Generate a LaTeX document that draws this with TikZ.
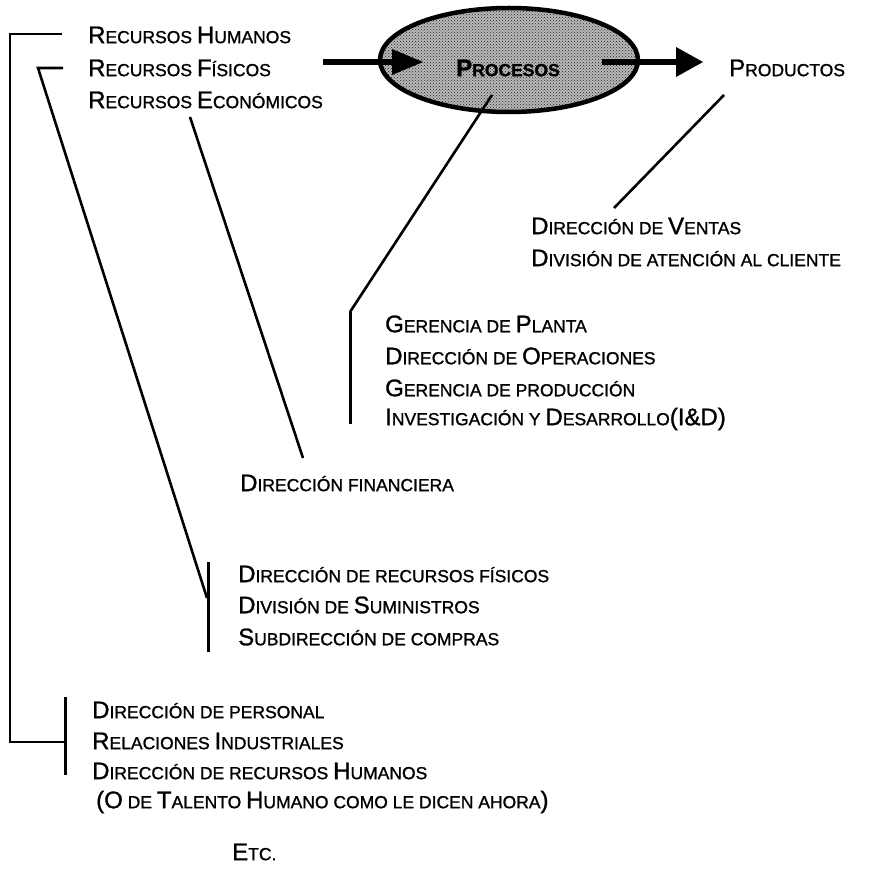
\documentclass[tikz,border=0pt]{standalone}
\usepackage{fontspec}
\setmainfont{Liberation Sans}[FakeBold=1.2]
\usetikzlibrary{patterns,arrows.meta,shapes.geometric}
% fake small caps: capitals at full size, the rest as smaller capitals
\newcommand\Cp[1]{{\fontsize{24}{26}\selectfont #1}}
\tikzset{
  lbl/.style={anchor=west, inner sep=0pt, font=\fontsize{17.5}{20}\selectfont},
  ln/.style={line width=2.6pt},
  bar/.style={line width=3pt},
  fat/.style={line width=6pt},
}
\begin{document}
\begin{tikzpicture}[x=1pt,y=-1pt]
\useasboundingbox (0,0) rectangle (869,877);

% resources
\node[lbl] (rh) at (88,35) {\Cp{R}ECURSOS \Cp{H}UMANOS};
\node[lbl] (rf) at (88,68) {\Cp{R}ECURSOS \Cp{F}ÍSICOS};
\node[lbl] (re) at (88,100) {\Cp{R}ECURSOS \Cp{E}CONÓMICOS};

% process ellipse, stippled grey fill
\node[draw, line width=4.5pt, ellipse, minimum width=258pt, minimum height=104pt,
      preaction={fill=black!28},
      pattern=crosshatch dots, pattern color=black!85, inner sep=0pt] (pr) at (509,60) {};
\node[lbl, anchor=center, font=\fontsize{17.5}{20}\bfseries] (prl) at (508,68) {\Cp{P}ROCESOS};
\node[lbl] (pd) at (729,68) {\Cp{P}RODUCTOS};

% input and output arrows
\coordinate (a1s) at (323,62);
\coordinate (a1b) at (392,62);
\coordinate (a1e) at (423,62);
\coordinate (a2s) at (602,62);
\coordinate (a2b) at (676,62);
\coordinate (a2e) at (703,62);
\draw[fat] (a1s) -- (a1b);
\fill (a1e) -- ([yshift=-13pt]a1b) -- ([yshift=13pt]a1b) -- cycle;
\draw[fat] (a2s) -- (a2b);
\fill (a2e) -- ([yshift=-15pt]a2b) -- ([yshift=15pt]a2b) -- cycle;

% sales
\node[lbl] (v1) at (531,226) {\Cp{D}IRECCIÓN DE \Cp{V}ENTAS};
\node[lbl] (v2) at (531,258) {\Cp{D}IVISIÓN DE ATENCIÓN AL CLIENTE};
\coordinate (vt) at (724,95);
\coordinate (vb) at (614,208);
\draw[ln] (vt) -- (vb);

% production
\node[lbl] (g1) at (385,324) {\Cp{G}ERENCIA DE \Cp{P}LANTA};
\node[lbl] (g2) at (385,356) {\Cp{D}IRECCIÓN DE \Cp{O}PERACIONES};
\node[lbl] (g3) at (385,388) {\Cp{G}ERENCIA DE PRODUCCIÓN};
\node[lbl] (g4) at (385,419) {\Cp{I}NVESTIGACIÓN Y \Cp{D}ESARROLLO\Cp{(I\&D)}};
\coordinate (pt) at (492,95);
\coordinate (gb1) at (350,312);
\coordinate (gb2) at (350,424);
\draw[ln] (pt) -- (gb1);
\draw[bar] (gb1) -- (gb2);

% finance
\node[lbl] (df) at (240,483) {\Cp{D}IRECCIÓN FINANCIERA};
\coordinate (et) at (190,117);
\coordinate (eb) at (303,458);
\draw[ln] (et) -- (eb);

% physical resources
\node[lbl] (f1) at (238,574) {\Cp{D}IRECCIÓN DE RECURSOS FÍSICOS};
\node[lbl] (f2) at (238,605) {\Cp{D}IVISIÓN DE \Cp{S}UMINISTROS};
\node[lbl] (f3) at (238,637) {\Cp{S}UBDIRECCIÓN DE COMPRAS};
\coordinate (fh1) at (38,68);
\coordinate (fh2) at (63,68);
\coordinate (fj) at (207,598);
\coordinate (fb1) at (208,562);
\coordinate (fb2) at (208,652);
\draw[ln] (fh2) -- (fh1) -- (fj);
\draw[bar] (fb1) -- (fb2);

% human resources
\node[lbl] (h1) at (92,710) {\Cp{D}IRECCIÓN DE PERSONAL};
\node[lbl] (h2) at (92,741) {\Cp{R}ELACIONES \Cp{I}NDUSTRIALES};
\node[lbl] (h3) at (92,771) {\Cp{D}IRECCIÓN DE RECURSOS \Cp{H}UMANOS};
\node[lbl] (h4) at (96,802) {\Cp{(O} DE \Cp{T}ALENTO \Cp{H}UMANO COMO LE DICEN AHORA\Cp{)}};
\coordinate (hh1) at (62,34);
\coordinate (hc1) at (10,34);
\coordinate (hc2) at (10,742);
\coordinate (hj) at (65,742);
\coordinate (hb1) at (65,697);
\coordinate (hb2) at (65,775);
\draw[ln] (hh1) -- (hc1) -- (hc2) -- (hj);
\draw[bar] (hb1) -- (hb2);

\node[lbl] (etc) at (232,852) {\Cp{E}TC.};
\end{tikzpicture}
\end{document}
